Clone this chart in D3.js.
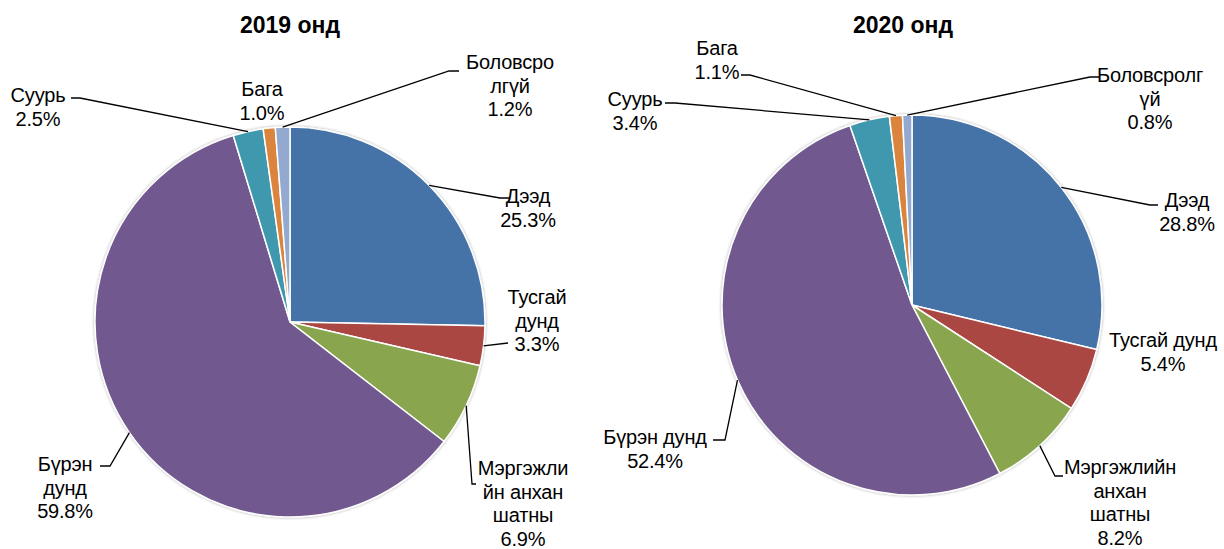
<!DOCTYPE html>
<html>
<head>
<meta charset="utf-8">
<script src="https://cdn.jsdelivr.net/npm/d3@7"></script>
<style>
  body { margin: 0; background: white; }
  text { font-family: "Liberation Sans", Arial, sans-serif; fill: #000; }
</style>
</head>
<body>
<div id="viz_area"></div>
<script>
var width = 1224
var height = 549

// data
var categories = ["Дээд", "Тусгай дунд", "Мэргэжлийн анхан шатны", "Бүрэн дунд", "Суурь", "Бага", "Боловсролгүй"]
var values2019 = [25.3, 3.3, 6.9, 59.8, 2.5, 1.0, 1.2]
var values2020 = [28.8, 5.4, 8.2, 52.4, 3.4, 1.1, 0.8]
var titles = ["2019 онд", "2020 онд"]
var names2019 = [["Дээд"], ["Тусгай", "дунд"], ["Мэргэжли", "йн анхан", "шатны"], ["Бүрэн", "дунд"], ["Суурь"], ["Бага"], ["Боловсро", "лгүй"]]
var names2020 = [["Дээд"], ["Тусгай дунд"], ["Мэргэжлийн", "анхан", "шатны"], ["Бүрэн дунд"], ["Суурь"], ["Бага"], ["Боловсролг", "үй"]]

var cmap = ["#4572a7", "#aa4643", "#89a54e", "#71588f", "#4198af", "#db843d", "#93a9cf"]

// label layout: text center x, first line center y, leader elbow + end (null = no leader)
var layout2019 = [
  { x: 528, y: 196, leader: [[500, 198], [510, 198]] },
  { x: 537, y: 297, leader: [[508, 343]] },
  { x: 523, y: 468, leader: [[472, 484], [476, 484]] },
  { x: 65, y: 464, leader: [[110, 466], [100, 466]] },
  { x: 38, y: 95, leader: [[80, 98], [71, 98]] },
  { x: 262, y: 89, leader: null },
  { x: 510, y: 62, leader: [[449, 71], [459, 71]] }
]
var layout2020 = [
  { x: 1187, y: 200, leader: [[1150, 205], [1158, 205]] },
  { x: 1163, y: 340, leader: null },
  { x: 1120, y: 467, leader: [[1055, 476], [1063, 476]] },
  { x: 655, y: 437, leader: [[725, 440], [713, 440]] },
  { x: 635, y: 99, leader: [[675, 103], [665, 103]] },
  { x: 717, y: 48, leader: [[750, 75], [741, 75]] },
  { x: 1150, y: 75, leader: [[1090, 77], [1100, 77]] }
]

var charts = [
  { title: titles[0], values: values2019, names: names2019, layout: layout2019, cx: 290, cy: 322, r: 195, tx: 290 },
  { title: titles[1], values: values2020, names: names2020, layout: layout2020, cx: 912, cy: 305, r: 190, tx: 903 }
]

var svg = d3.select("#viz_area")
  .append("svg")
  .attr("width", width)
  .attr("height", height)
  .attr("viewBox", [0, 0, width, height])
  .style("background-color", "white")

var defs = svg.append("defs")
defs.append("filter")
  .attr("id", "shadow")
  .attr("x", "-10%").attr("y", "-10%").attr("width", "120%").attr("height", "120%")
  .append("feDropShadow")
  .attr("dx", 0).attr("dy", 0)
  .attr("stdDeviation", 1.5)
  .attr("flood-color", "#000")
  .attr("flood-opacity", 0.35)

var pie = d3.pie().sort(null).value(d => d)
var lineH = 23.5

function drawPie(c) {
  var g = svg.append("g")
  var arcs = pie(c.values)
  var arc = d3.arc().innerRadius(0).outerRadius(c.r)

  g.append("text")
    .attr("x", c.tx)
    .attr("y", 33)
    .attr("text-anchor", "middle")
    .style("font-size", "23px")
    .style("font-weight", "bold")
    .text(c.title)

  g.append("g")
    .attr("transform", `translate(${c.cx},${c.cy})`)
    .attr("filter", "url(#shadow)")
    .selectAll("path")
    .data(arcs)
    .enter()
    .append("path")
    .attr("d", arc)
    .attr("fill", (d, i) => cmap[i])
    .attr("stroke", "white")
    .attr("stroke-width", 1.5)

  // leaders
  arcs.forEach(function (d, i) {
    var lay = c.layout[i]
    if (!lay.leader) return
    var a = (d.startAngle + d.endAngle) / 2
    var pts = [[c.cx + c.r * Math.sin(a), c.cy - c.r * Math.cos(a)]].concat(lay.leader)
    g.append("path")
      .attr("d", d3.line()(pts))
      .attr("fill", "none")
      .attr("stroke", "black")
      .attr("stroke-width", 1.3)
  })

  // labels
  arcs.forEach(function (d, i) {
    var lay = c.layout[i]
    var lines = c.names[i].concat([d3.format(".1f")(c.values[i]) + "%"])
    var t = g.append("text")
      .attr("text-anchor", "middle")
      .style("font-size", "20px")
      .style("letter-spacing", "-0.2px")
    lines.forEach(function (s, j) {
      t.append("tspan")
        .attr("x", lay.x)
        .attr("y", lay.y + j * lineH + 7)
        .text(s)
    })
  })
}

charts.forEach(drawPie)
</script>
</body>
</html>
